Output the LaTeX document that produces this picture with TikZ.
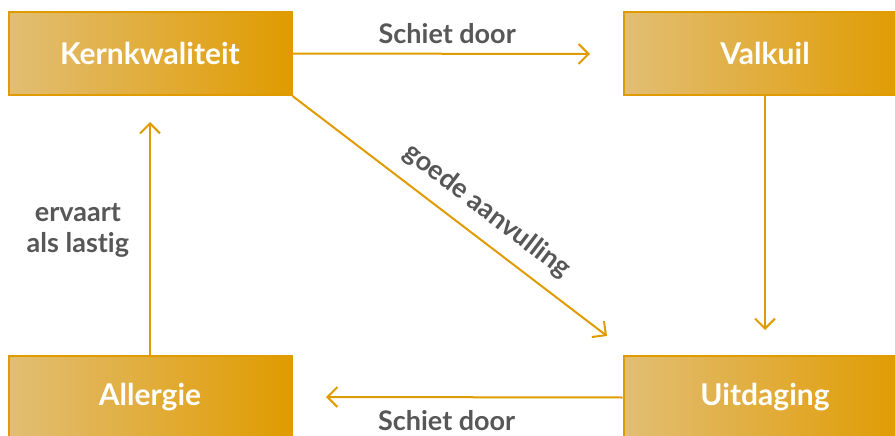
\documentclass[tikz,border=0pt]{standalone}
\usepackage{fontspec}
\setmainfont{Lato}[Ligatures={NoCommon}]
\usetikzlibrary{arrows.meta}
\definecolor{gold}{HTML}{E09B00}
\definecolor{tan}{HTML}{E2BE74}
\definecolor{labelgrey}{HTML}{575757}
\tikzset{
  card/.style={draw=gold, line width=2pt, left color=tan, right color=gold,
    minimum width=283pt, minimum height=83pt, inner sep=0pt,
    text=white, font=\bfseries\fontsize{30}{34}\selectfont},
  link/.style={draw=gold, line width=2pt, -{Straight Barb[length=10pt,width=20pt,line width=2pt]}},
  tag/.style={text=labelgrey, inner sep=0pt, font=\bfseries\fontsize{27}{31}\selectfont, align=center}
}
\begin{document}
\begin{tikzpicture}[x=1pt,y=-1pt]
\useasboundingbox (0,0) rectangle (895,436);
\clip (0,0) rectangle (895,436);
\node[card] (kern) at (150,53.5) {Kernkwaliteit};
\node[card] (valk) at (765,53.5) {Valkuil};
\node[card] (aller) at (150,397.5) {Allergie};
\node[card] (uitd) at (765,397.5) {Uitdaging};
\coordinate (kernEnd) at (590,54);
\coordinate (valkEnd) at (765,330);
\coordinate (diagEnd) at (607,336);
\coordinate (uitdEnd) at (326,397);
\coordinate (allerEnd) at (150,122);
\draw[link] (kern.east) -- (kernEnd) node[tag, pos=0.52, above=9pt] {Schiet door};
\draw[link] (valk.south) -- (valkEnd);
\draw[link] (kern.south east) -- (diagEnd) node[tag, pos=0.567, sloped, above=13pt] {goede aanvulling};
\draw[link] (uitd.west) -- (uitdEnd) node[tag, pos=0.593, below=12pt] {Schiet door};
\draw[link] (aller.north) -- (allerEnd) node[tag, pos=0.534, left=20pt] {ervaart\\als lastig};
\end{tikzpicture}
\end{document}
